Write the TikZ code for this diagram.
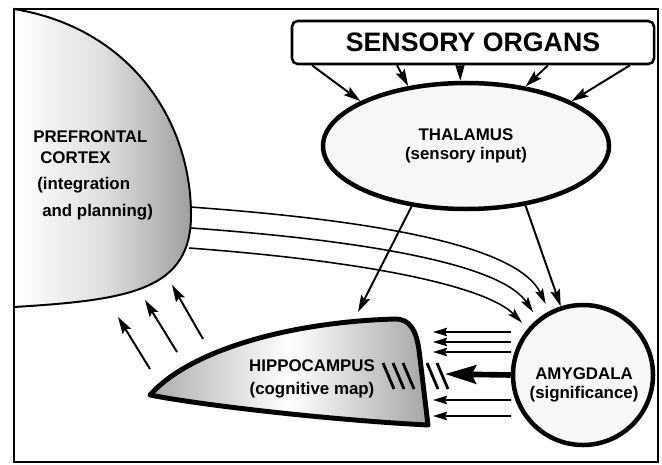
\documentclass[tikz,border=0pt]{standalone}
\usepackage{fontspec}
\setmainfont{Liberation Sans}
\usetikzlibrary{arrows.meta,shapes.geometric}

\tikzset{
  lbl/.style={font=\bfseries\fontsize{12}{14}\selectfont, inner sep=0pt},
  arr/.style={line width=1.4pt, -{Stealth[length=12pt,width=7pt,inset=2pt]}},
  curvarr/.style={line width=1.1pt, shorten >=2mm, -{Stealth[length=11pt,width=6pt,inset=2pt]}},
  thinarr/.style={line width=1.1pt, -{Stealth[length=10pt,width=6pt,inset=1.5pt]}},
  bigarr/.style={line width=4pt, -{Stealth[length=22pt,width=13pt,inset=3pt]}},
  hatch/.style={line width=2pt},
  organ/.style={draw, line width=3.2pt, fill=gray!6},
}

\begin{document}
\begin{tikzpicture}[x=0.25mm, y=-0.25mm]
\useasboundingbox (0,0) rectangle (662,464);

% Frame
\draw[line width=0.9pt] (14,9) rectangle (658,462);

% Prefrontal cortex
\draw[line width=1.4pt, left color=white, right color=gray!75, middle color=gray!25]
  (14,9) .. controls (130,28) and (191,120) .. (191,215)
  .. controls (191,290) and (130,300) .. (14,307) -- cycle;
\node[lbl, anchor=base west] (pfc1) at (33,142) {PREFRONTAL};
\node[lbl, anchor=base west] (pfc2) at (40,164) {CORTEX};
\node[lbl, anchor=base west] (pfc3) at (37,189) {(integration};
\node[lbl, anchor=base west] (pfc4) at (42,216) {and planning)};

% Sensory organs and thalamus
\node[draw, line width=1.8pt, rounded corners=4pt, minimum width=90.5mm, minimum height=10.75mm,
  font=\bfseries\fontsize{19}{21}\selectfont] (sens) at (473,42.5) {SENSORY ORGANS};
\node[organ, ellipse, minimum width=71.5mm, minimum height=31.5mm, lbl, align=center]
  (thal) at (466,146) {THALAMUS\\(sensory input)};

% Amygdala
\node[organ, circle, minimum size=35mm] (amy) at (583,375) {};
\node[lbl, align=center] (amytxt) at (584,385) {AMYGDALA\\(significance)};

% Hippocampus
\draw[line width=3.5pt, line join=round, left color=gray!65, right color=gray!70, middle color=white]
  (150,395) .. controls (190,350) and (290,322) .. (395,319)
  .. controls (410,319) and (416,330) .. (419,350)
  -- (428,425) .. controls (330,420) and (200,405) .. (150,395) -- cycle;
\node[lbl, align=center] (hipp) at (312,379) {HIPPOCAMPUS\\[2pt](cognitive map)};
\foreach \x in {383,393,403,427,437}
  \draw[hatch] (\x,363) -- (\x+11,389);

% Sensory input
\foreach \dx/\a in {-40.25/157, -19/134, -3.25/95, 18.75/45, 39.25/23}
  \draw[arr] ([xshift=\dx mm]sens.south) -- (thal.\a);

% Thalamus outputs
\coordinate (hipptop) at (358,312);
\draw[arr] (thal.228) -- (hipptop);
\draw[arr] (thal.-45) -- (amy.108);

% Cortex to amygdala
\coordinate (p1) at (190,207);
\coordinate (p2) at (191,228);
\coordinate (p3) at (189,248);
\draw[curvarr] (p1) .. controls (400,222) and (520,250) .. (amy.118);
\draw[curvarr] (p2) .. controls (400,243) and (505,270) .. (amy.129);
\draw[curvarr] (p3) .. controls (390,263) and (490,290) .. (amy.140);

% Hippocampus to cortex
\coordinate (h1) at (150,369);
\coordinate (h2) at (177,352);
\coordinate (h3) at (203,339);
\coordinate (c1) at (118,317);
\coordinate (c2) at (145,300);
\coordinate (c3) at (172,285);
\foreach \i in {1,2,3}
  \draw[arr] (h\i) -- (c\i);

% Amygdala to hippocampus
\foreach \y [count=\i] in {332,342,352,400,416} {
  \coordinate (t\i) at (433,\y);
  \draw[thinarr] (amy.west |- t\i) -- (t\i);
}
\coordinate (hin) at (445,374);
\draw[bigarr] (amy.west) -- (hin);

\end{tikzpicture}
\end{document}
